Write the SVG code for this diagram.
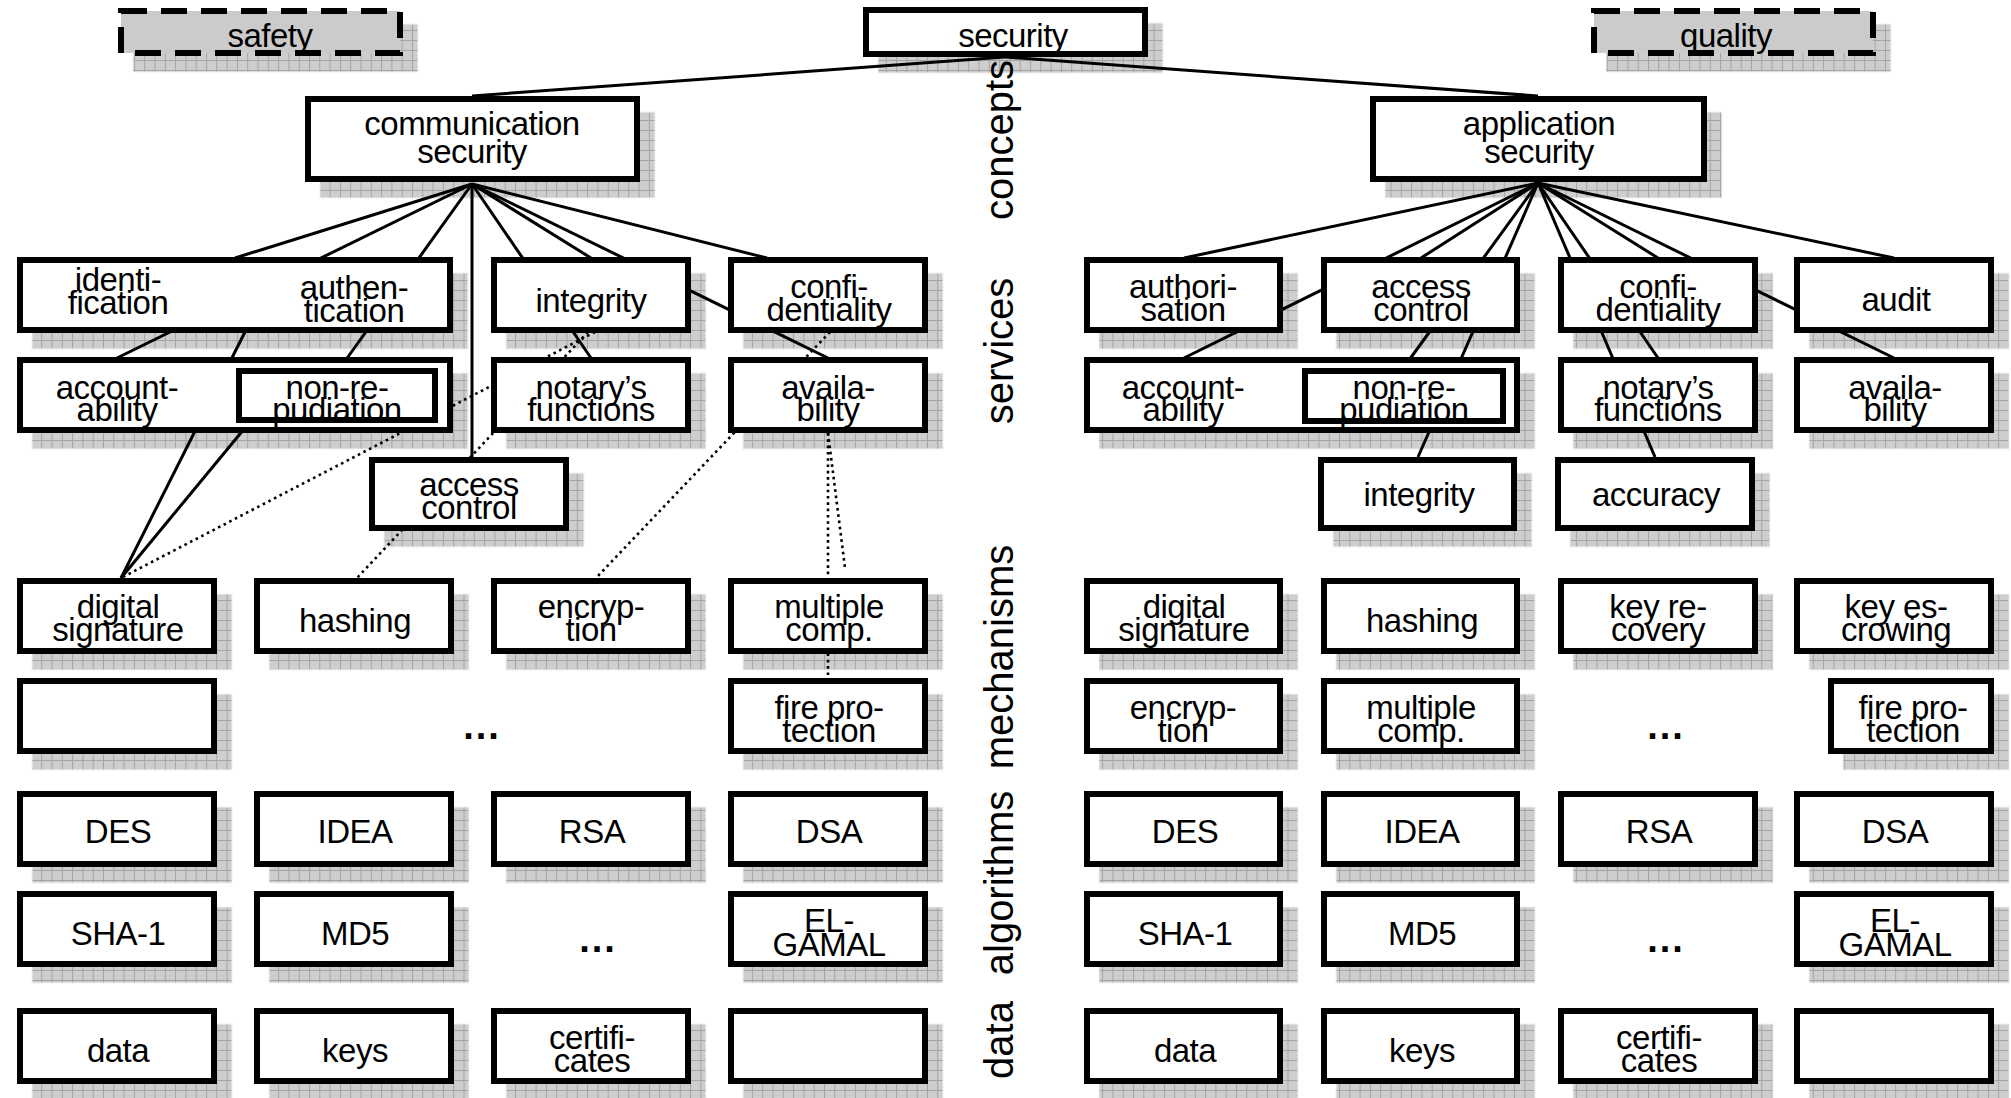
<svg xmlns="http://www.w3.org/2000/svg" width="2011" height="1098" viewBox="0 0 2011 1098">
<defs>
<pattern id="grid" patternUnits="userSpaceOnUse" width="10.3" height="10" x="0" y="0">
<rect width="10.3" height="10" fill="#cecece"/>
<path d="M0 0.5H10.3M0.5 0V10" stroke="#a4a4a4" stroke-width="1"/>
</pattern>
</defs>
<style>
.sh{fill:url(#grid);stroke:#f2f2f2;stroke-width:1}
.bx{fill:#fff;stroke:#000;stroke-width:6}
.ds{fill:#cbcbcb;stroke:#000;stroke-width:6;stroke-dasharray:26 14}
.ln{stroke:#000;stroke-width:3;fill:none}
.dt{stroke:#000;stroke-width:2.6;fill:none;stroke-dasharray:2.6 3.7}
text{font-family:"Liberation Sans",Arial,Helvetica,sans-serif;font-size:33px;letter-spacing:-0.5px;text-anchor:middle;fill:#000}
.lay{font-size:40px;letter-spacing:0}
.dots{font-weight:bold;font-size:38px;letter-spacing:2px}
</style>
<rect width="2011" height="1098" fill="#fff"/>

<g id="shadows">
<rect class="sh" x="133" y="24" width="285" height="48"/>
<rect class="sh" x="878" y="23" width="285" height="50"/>
<rect class="sh" x="1606" y="24" width="285" height="48"/>
<rect class="sh" x="320" y="112" width="335" height="86"/>
<rect class="sh" x="1385" y="112" width="337" height="86"/>
<rect class="sh" x="32" y="273" width="436" height="76"/>
<rect class="sh" x="506" y="273" width="200" height="76"/>
<rect class="sh" x="743" y="273" width="200" height="76"/>
<rect class="sh" x="1099" y="273" width="199" height="76"/>
<rect class="sh" x="1336" y="273" width="199" height="76"/>
<rect class="sh" x="1573" y="273" width="200" height="76"/>
<rect class="sh" x="1809" y="273" width="200" height="76"/>
<rect class="sh" x="32" y="373" width="436" height="76"/>
<rect class="sh" x="506" y="373" width="200" height="76"/>
<rect class="sh" x="743" y="373" width="200" height="76"/>
<rect class="sh" x="1099" y="373" width="436" height="76"/>
<rect class="sh" x="1573" y="373" width="200" height="76"/>
<rect class="sh" x="1809" y="373" width="200" height="76"/>
<rect class="sh" x="384" y="473" width="200" height="74"/>
<rect class="sh" x="1333" y="473" width="199" height="74"/>
<rect class="sh" x="1570" y="473" width="200" height="74"/>
<rect class="sh" x="32" y="594" width="200" height="76"/>
<rect class="sh" x="269" y="594" width="200" height="76"/>
<rect class="sh" x="506" y="594" width="200" height="76"/>
<rect class="sh" x="743" y="594" width="200" height="76"/>
<rect class="sh" x="1099" y="594" width="199" height="76"/>
<rect class="sh" x="1336" y="594" width="199" height="76"/>
<rect class="sh" x="1573" y="594" width="200" height="76"/>
<rect class="sh" x="1809" y="594" width="200" height="76"/>
<rect class="sh" x="32" y="694" width="200" height="76"/>
<rect class="sh" x="743" y="694" width="200" height="76"/>
<rect class="sh" x="1099" y="694" width="199" height="76"/>
<rect class="sh" x="1336" y="694" width="199" height="76"/>
<rect class="sh" x="1843" y="694" width="166" height="76"/>
<rect class="sh" x="32" y="807" width="200" height="76"/>
<rect class="sh" x="269" y="807" width="200" height="76"/>
<rect class="sh" x="506" y="807" width="200" height="76"/>
<rect class="sh" x="743" y="807" width="200" height="76"/>
<rect class="sh" x="1099" y="807" width="199" height="76"/>
<rect class="sh" x="1336" y="807" width="199" height="76"/>
<rect class="sh" x="1573" y="807" width="200" height="76"/>
<rect class="sh" x="1809" y="807" width="200" height="76"/>
<rect class="sh" x="32" y="907" width="200" height="76"/>
<rect class="sh" x="269" y="907" width="200" height="76"/>
<rect class="sh" x="743" y="907" width="200" height="76"/>
<rect class="sh" x="1099" y="907" width="199" height="76"/>
<rect class="sh" x="1336" y="907" width="199" height="76"/>
<rect class="sh" x="1809" y="907" width="200" height="76"/>
<rect class="sh" x="32" y="1024" width="200" height="76"/>
<rect class="sh" x="269" y="1024" width="200" height="76"/>
<rect class="sh" x="506" y="1024" width="200" height="76"/>
<rect class="sh" x="743" y="1024" width="200" height="76"/>
<rect class="sh" x="1099" y="1024" width="199" height="76"/>
<rect class="sh" x="1336" y="1024" width="199" height="76"/>
<rect class="sh" x="1573" y="1024" width="200" height="76"/>
<rect class="sh" x="1809" y="1024" width="200" height="76"/>
</g>

<g id="connectors">
<line class="ln" x1="1005" y1="57" x2="472" y2="96"/>
<line class="ln" x1="1005" y1="57" x2="1538" y2="96"/>
<line class="ln" x1="472" y1="184" x2="235" y2="258"/>
<line class="ln" x1="472" y1="184" x2="117" y2="358"/>
<line class="ln" x1="472" y1="184" x2="340" y2="368"/>
<line class="ln" x1="472" y1="184" x2="472" y2="457"/>
<line class="ln" x1="472" y1="184" x2="591" y2="358"/>
<line class="ln" x1="472" y1="184" x2="591" y2="258"/>
<line class="ln" x1="472" y1="184" x2="828" y2="358"/>
<line class="ln" x1="472" y1="184" x2="767" y2="258"/>
<line class="ln" x1="245" y1="332" x2="121" y2="578"/>
<line class="ln" x1="249" y1="423" x2="121" y2="578"/>
<line class="dt" x1="595" y1="332" x2="121" y2="578"/>
<line class="dt" x1="588" y1="332" x2="357" y2="578"/>
<line class="dt" x1="830" y1="332" x2="596" y2="578"/>
<line class="dt" x1="828" y1="433" x2="828" y2="678"/>
<line class="dt" x1="828" y1="433" x2="845" y2="568"/>
<line class="ln" x1="1538" y1="183" x2="1184" y2="258"/>
<line class="ln" x1="1538" y1="183" x2="1184" y2="358"/>
<line class="ln" x1="1538" y1="183" x2="1421" y2="258"/>
<line class="ln" x1="1538" y1="183" x2="1404" y2="367"/>
<line class="ln" x1="1538" y1="183" x2="1418" y2="457"/>
<line class="ln" x1="1538" y1="183" x2="1655" y2="457"/>
<line class="ln" x1="1538" y1="183" x2="1658" y2="358"/>
<line class="ln" x1="1538" y1="183" x2="1658" y2="258"/>
<line class="ln" x1="1538" y1="183" x2="1894" y2="358"/>
<line class="ln" x1="1538" y1="183" x2="1894" y2="258"/>
</g>

<g id="n-safety"><rect class="ds" x="121" y="11" width="279" height="42"/><text x="270" y="47">safety</text></g>
<g id="n-security"><rect class="bx" x="866" y="10" width="279" height="44"/><text x="1013" y="47">security</text></g>
<g id="n-quality"><rect class="ds" x="1594" y="11" width="279" height="42"/><text x="1726" y="47">quality</text></g>
<g id="n-comm"><rect class="bx" x="308" y="99" width="329" height="80"/><text x="472" y="135">communication</text><text x="472" y="163">security</text></g>
<g id="n-app"><rect class="bx" x="1373" y="99" width="331" height="80"/><text x="1539" y="135">application</text><text x="1539" y="163">security</text></g>

<g id="n-identauth"><rect class="bx" x="20" y="260" width="430" height="70"/><text x="118" y="291">identi-</text><text x="118" y="314">fication</text><text x="354" y="299">authen-</text><text x="354" y="322">tication</text></g>
<g id="n-integrity-l"><rect class="bx" x="494" y="260" width="194" height="70"/><text x="591" y="312">integrity</text></g>
<g id="n-conf-l"><rect class="bx" x="731" y="260" width="194" height="70"/><text x="829" y="298">confi-</text><text x="829" y="321">dentiality</text></g>
<g id="n-authorisation"><rect class="bx" x="1087" y="260" width="193" height="70"/><text x="1183" y="298">authori-</text><text x="1183" y="321">sation</text></g>
<g id="n-access-r"><rect class="bx" x="1324" y="260" width="193" height="70"/><text x="1421" y="298">access</text><text x="1421" y="321">control</text></g>
<g id="n-conf-r"><rect class="bx" x="1561" y="260" width="194" height="70"/><text x="1658" y="298">confi-</text><text x="1658" y="321">dentiality</text></g>
<g id="n-audit"><rect class="bx" x="1797" y="260" width="194" height="70"/><text x="1896" y="311">audit</text></g>

<g id="n-account-l"><rect class="bx" x="20" y="360" width="430" height="70"/><text x="117" y="399">account-</text><text x="117" y="421">ability</text></g>
<g id="n-nonrep-l"><rect class="bx" x="239" y="371" width="196" height="49"/><text x="337" y="399">non-re-</text><text x="337" y="421">pudiation</text></g>
<g id="n-notary-l"><rect class="bx" x="494" y="360" width="194" height="70"/><text x="591" y="399">notary’s</text><text x="591" y="421">functions</text></g>
<g id="n-avail-l"><rect class="bx" x="731" y="360" width="194" height="70"/><text x="828" y="399">availa-</text><text x="828" y="421">bility</text></g>
<g id="n-account-r"><rect class="bx" x="1087" y="360" width="430" height="70"/><text x="1183" y="399">account-</text><text x="1183" y="421">ability</text></g>
<g id="n-nonrep-r"><rect class="bx" x="1305" y="371" width="198" height="50"/><text x="1404" y="399">non-re-</text><text x="1404" y="421">pudiation</text></g>
<g id="n-notary-r"><rect class="bx" x="1561" y="360" width="194" height="70"/><text x="1658" y="399">notary’s</text><text x="1658" y="421">functions</text></g>
<g id="n-avail-r"><rect class="bx" x="1797" y="360" width="194" height="70"/><text x="1895" y="399">availa-</text><text x="1895" y="421">bility</text></g>

<g id="n-access-l"><rect class="bx" x="372" y="460" width="194" height="68"/><text x="469" y="496">access</text><text x="469" y="519">control</text></g>
<g id="n-integrity-r"><rect class="bx" x="1321" y="460" width="193" height="68"/><text x="1419" y="506">integrity</text></g>
<g id="n-accuracy"><rect class="bx" x="1558" y="460" width="194" height="68"/><text x="1656" y="506">accuracy</text></g>

<g id="n-digsig-l"><rect class="bx" x="20" y="581" width="194" height="70"/><text x="118" y="618">digital</text><text x="118" y="641">signature</text></g>
<g id="n-hashing-l"><rect class="bx" x="257" y="581" width="194" height="70"/><text x="355" y="632">hashing</text></g>
<g id="n-encryp-l"><rect class="bx" x="494" y="581" width="194" height="70"/><text x="591" y="618">encryp-</text><text x="591" y="641">tion</text></g>
<g id="n-multcomp-l"><rect class="bx" x="731" y="581" width="194" height="70"/><text x="829" y="618">multiple</text><text x="829" y="641">comp.</text></g>
<g id="n-digsig-r"><rect class="bx" x="1087" y="581" width="193" height="70"/><text x="1184" y="618">digital</text><text x="1184" y="641">signature</text></g>
<g id="n-hashing-r"><rect class="bx" x="1324" y="581" width="193" height="70"/><text x="1422" y="632">hashing</text></g>
<g id="n-keyrec"><rect class="bx" x="1561" y="581" width="194" height="70"/><text x="1658" y="618">key re-</text><text x="1658" y="641">covery</text></g>
<g id="n-keyesc"><rect class="bx" x="1797" y="581" width="194" height="70"/><text x="1896" y="618">key es-</text><text x="1896" y="641">crowing</text></g>

<g id="n-empty-mech-l"><rect class="bx" x="20" y="681" width="194" height="70"/></g>
<g id="n-dots-mech-l"><text class="dots" x="482" y="739">...</text></g>
<g id="n-fire-l"><rect class="bx" x="731" y="681" width="194" height="70"/><text x="829" y="719">fire pro-</text><text x="829" y="742">tection</text></g>
<g id="n-encryp-r"><rect class="bx" x="1087" y="681" width="193" height="70"/><text x="1183" y="719">encryp-</text><text x="1183" y="742">tion</text></g>
<g id="n-multcomp-r"><rect class="bx" x="1324" y="681" width="193" height="70"/><text x="1421" y="719">multiple</text><text x="1421" y="742">comp.</text></g>
<g id="n-dots-mech-r"><text class="dots" x="1666" y="739">...</text></g>
<g id="n-fire-r"><rect class="bx" x="1831" y="681" width="160" height="70"/><text x="1913" y="719">fire pro-</text><text x="1913" y="742">tection</text></g>

<g id="n-des-l"><rect class="bx" x="20" y="794" width="194" height="70"/><text x="118" y="843">DES</text></g>
<g id="n-idea-l"><rect class="bx" x="257" y="794" width="194" height="70"/><text x="355" y="843">IDEA</text></g>
<g id="n-rsa-l"><rect class="bx" x="494" y="794" width="194" height="70"/><text x="592" y="843">RSA</text></g>
<g id="n-dsa-l"><rect class="bx" x="731" y="794" width="194" height="70"/><text x="829" y="843">DSA</text></g>
<g id="n-des-r"><rect class="bx" x="1087" y="794" width="193" height="70"/><text x="1185" y="843">DES</text></g>
<g id="n-idea-r"><rect class="bx" x="1324" y="794" width="193" height="70"/><text x="1422" y="843">IDEA</text></g>
<g id="n-rsa-r"><rect class="bx" x="1561" y="794" width="194" height="70"/><text x="1659" y="843">RSA</text></g>
<g id="n-dsa-r"><rect class="bx" x="1797" y="794" width="194" height="70"/><text x="1895" y="843">DSA</text></g>

<g id="n-sha-l"><rect class="bx" x="20" y="894" width="194" height="70"/><text x="118" y="945">SHA-1</text></g>
<g id="n-md5-l"><rect class="bx" x="257" y="894" width="194" height="70"/><text x="355" y="945">MD5</text></g>
<g id="n-dots-alg-l"><text class="dots" x="598" y="952">...</text></g>
<g id="n-elgamal-l"><rect class="bx" x="731" y="894" width="194" height="70"/><text x="829" y="932">EL-</text><text x="829" y="956">GAMAL</text></g>
<g id="n-sha-r"><rect class="bx" x="1087" y="894" width="193" height="70"/><text x="1185" y="945">SHA-1</text></g>
<g id="n-md5-r"><rect class="bx" x="1324" y="894" width="193" height="70"/><text x="1422" y="945">MD5</text></g>
<g id="n-dots-alg-r"><text class="dots" x="1666" y="952">...</text></g>
<g id="n-elgamal-r"><rect class="bx" x="1797" y="894" width="194" height="70"/><text x="1895" y="932">EL-</text><text x="1895" y="956">GAMAL</text></g>

<g id="n-data-l"><rect class="bx" x="20" y="1011" width="194" height="70"/><text x="118" y="1062">data</text></g>
<g id="n-keys-l"><rect class="bx" x="257" y="1011" width="194" height="70"/><text x="355" y="1062">keys</text></g>
<g id="n-cert-l"><rect class="bx" x="494" y="1011" width="194" height="70"/><text x="592" y="1049">certifi-</text><text x="592" y="1072">cates</text></g>
<g id="n-empty-data-l"><rect class="bx" x="731" y="1011" width="194" height="70"/></g>
<g id="n-data-r"><rect class="bx" x="1087" y="1011" width="193" height="70"/><text x="1185" y="1062">data</text></g>
<g id="n-keys-r"><rect class="bx" x="1324" y="1011" width="193" height="70"/><text x="1422" y="1062">keys</text></g>
<g id="n-cert-r"><rect class="bx" x="1561" y="1011" width="194" height="70"/><text x="1659" y="1049">certifi-</text><text x="1659" y="1072">cates</text></g>
<g id="n-empty-data-r"><rect class="bx" x="1797" y="1011" width="194" height="70"/></g>

<g id="layer-labels">
<text class="lay" transform="translate(1013,140) rotate(-90)">concepts</text>
<text class="lay" transform="translate(1013,351) rotate(-90)">services</text>
<text class="lay" transform="translate(1013,657) rotate(-90)">mechanisms</text>
<text class="lay" transform="translate(1013,883) rotate(-90)">algorithms</text>
<text class="lay" transform="translate(1013,1040) rotate(-90)">data</text>
</g>
</svg>
